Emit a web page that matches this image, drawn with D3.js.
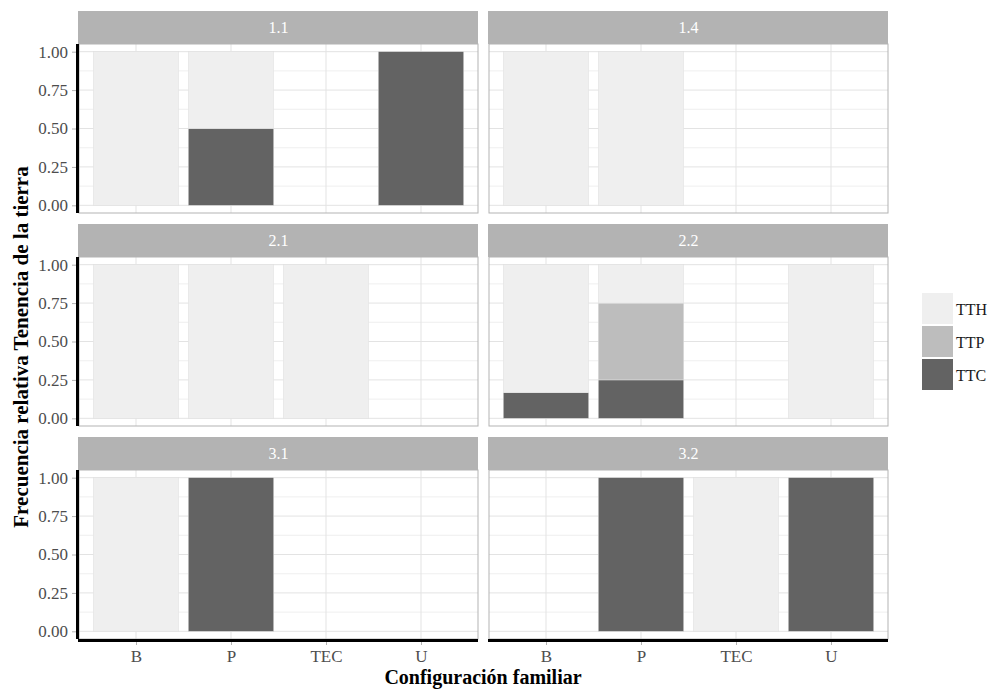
<!DOCTYPE html>
<html>
<head>
<meta charset="utf-8">
<script src="https://cdn.jsdelivr.net/npm/d3@7"></script>
<style>
  body { margin: 0; background: #fff; }
  svg text { font-family: "Liberation Serif", "DejaVu Serif", serif; }
</style>
</head>
<body>
<div id="chart"></div>
<script>
// facets, categories and the three land tenure series
const panels = ["1.1", "1.4", "2.1", "2.2", "3.1", "3.2"];
const categories = ["B", "P", "TEC", "U"];
const series = ["TTH", "TTP", "TTC"];
const yTicks = [0, 0.25, 0.5, 0.75, 1];

// relative frequency per panel, by category (B, P, TEC, U)
const tth = [[1, 0.5, 0, 0], [1, 1, 0, 0], [1, 1, 1, 0], [0.833, 0.25, 0, 1], [1, 0, 0, 0], [0, 0, 1, 0]];
const ttp = [[0, 0, 0, 0], [0, 0, 0, 0], [0, 0, 0, 0], [0, 0.5, 0, 0], [0, 0, 0, 0], [0, 0, 0, 0]];
const ttc = [[0, 0.5, 0, 1], [0, 0, 0, 0], [0, 0, 0, 0], [0.167, 0.25, 0, 0], [0, 1, 0, 0], [0, 1, 0, 1]];

const colors = { TTH: "#efefef", TTP: "#bdbdbd", TTC: "#636363" };

var width = 991, height = 689;
var colX = [79, 489], panelW = 399;
var rowY = [11, 224, 437], stripH = 33, panelH = 169;

var svg = d3.select('#chart')
  .append('svg')
  .attr('width', width)
  .attr('height', height);

var yScale = d3.scaleLinear().domain([-0.05, 1.05]).range([panelH, 0]);
var minorTicks = [0.125, 0.375, 0.625, 0.875];

panels.forEach(function(name, i) {
  var col = i % 2, row = Math.floor(i / 2);
  var x0 = colX[col], y0 = rowY[row] + stripH;

  var xScale = d3.scalePoint()
    .domain(categories)
    .range([0, panelW])
    .padding(0.6);
  var step = xScale.step();

  // strip
  svg.append('rect')
    .attr('x', x0 - 1).attr('y', rowY[row])
    .attr('width', panelW + 1).attr('height', stripH)
    .style('fill', '#b3b3b3');
  svg.append('text')
    .attr('x', x0 + panelW / 2).attr('y', rowY[row] + stripH / 2)
    .attr('dy', '.35em')
    .attr('text-anchor', 'middle')
    .style('fill', '#fff')
    .style('font-size', '16px')
    .text(name);

  var g = svg.append('g')
    .attr('transform', 'translate(' + x0 + ',' + y0 + ')');

  // grid
  g.selectAll('.minor').data(minorTicks).enter().append('line')
    .attr('x1', 0).attr('x2', panelW)
    .attr('y1', yScale).attr('y2', yScale)
    .style('stroke', '#ebebeb').style('stroke-width', 0.8);
  g.selectAll('.major').data(yTicks).enter().append('line')
    .attr('x1', 0).attr('x2', panelW)
    .attr('y1', yScale).attr('y2', yScale)
    .style('stroke', '#e3e3e3').style('stroke-width', 1);
  g.selectAll('.vgrid').data(categories).enter().append('line')
    .attr('x1', xScale).attr('x2', xScale)
    .attr('y1', 0).attr('y2', panelH)
    .style('stroke', '#e3e3e3').style('stroke-width', 1);

  // stacked bars
  var rows = categories.map(function(c, j) {
    return { cat: c, TTH: tth[i][j], TTP: ttp[i][j], TTC: ttc[i][j] };
  });
  var stacked = d3.stack().keys(["TTC", "TTP", "TTH"])(rows);
  stacked.forEach(function(layer) {
    g.selectAll('.bar-' + layer.key).data(layer.filter(function(d) { return d[1] > d[0]; }))
      .enter().append('rect')
      .attr('x', function(d) { return xScale(d.data.cat) - step * 0.45; })
      .attr('width', step * 0.9)
      .attr('y', function(d) { return yScale(d[1]); })
      .attr('height', function(d) { return yScale(d[0]) - yScale(d[1]); })
      .style('fill', colors[layer.key])
      .style('stroke', '#e0e0e0')
      .style('stroke-width', 0.5);
  });

  // panel border
  g.append('rect')
    .attr('x', 0).attr('y', 0)
    .attr('width', panelW).attr('height', panelH)
    .style('fill', 'none')
    .style('stroke', '#b3b3b3');

  // y axis on left column
  if (col === 0) {
    var yAxis = d3.axisLeft(yScale)
      .tickValues(yTicks)
      .tickFormat(d3.format('.2f'))
      .tickSize(4)
      .tickPadding(4);
    var ya = g.append('g').attr('transform', 'translate(-3,0)').call(yAxis);
    ya.select('.domain').remove();
    ya.selectAll('.tick line').style('stroke', '#b3b3b3');
    ya.selectAll('.tick text').style('fill', '#4d4d4d').style('font-size', '17px')
      .style('font-family', '"Liberation Serif", serif');
    g.append('line')
      .attr('x1', -1.5).attr('x2', -1.5)
      .attr('y1', 0).attr('y2', panelH)
      .style('stroke', '#000').style('stroke-width', 3);
  }

  // x axis on bottom row
  if (row === 2) {
    var xAxis = d3.axisBottom(xScale)
      .tickSize(4)
      .tickPadding(5);
    var xa = g.append('g').attr('transform', 'translate(0,' + (panelH + 2) + ')').call(xAxis);
    xa.select('.domain').remove();
    xa.selectAll('.tick line').style('stroke', '#b3b3b3');
    xa.selectAll('.tick text').style('fill', '#4d4d4d').style('font-size', '17px')
      .style('font-family', '"Liberation Serif", serif');
    g.append('line')
      .attr('x1', -1).attr('x2', panelW)
      .attr('y1', panelH + 1.5).attr('y2', panelH + 1.5)
      .style('stroke', '#000').style('stroke-width', 3);
  }
});

// axis titles
svg.append('text')
  .attr('x', 483).attr('y', 684)
  .attr('text-anchor', 'middle')
  .style('font-size', '20px')
  .style('font-weight', 'bold')
  .text('Configuración familiar');

svg.append('text')
  .attr('transform', 'translate(28,347) rotate(-90)')
  .attr('text-anchor', 'middle')
  .style('font-size', '21px')
  .style('font-weight', 'bold')
  .text('Frecuencia relativa Tenencia de la tierra');

// legend
var legend = svg.selectAll('.legend')
  .data(series)
  .enter().append('g')
  .attr('class', 'legend')
  .attr('transform', function(d, i) { return 'translate(922,' + (293 + i * 33) + ')'; });

legend.append('rect')
  .attr('width', 31)
  .attr('height', 31)
  .style('fill', function(d) { return colors[d]; });

legend.append('text')
  .attr('x', 34)
  .attr('y', 16)
  .attr('dy', '.35em')
  .style('font-size', '16px')
  .style('fill', '#1a1a1a')
  .text(function(d) { return d; });
</script>
</body>
</html>
